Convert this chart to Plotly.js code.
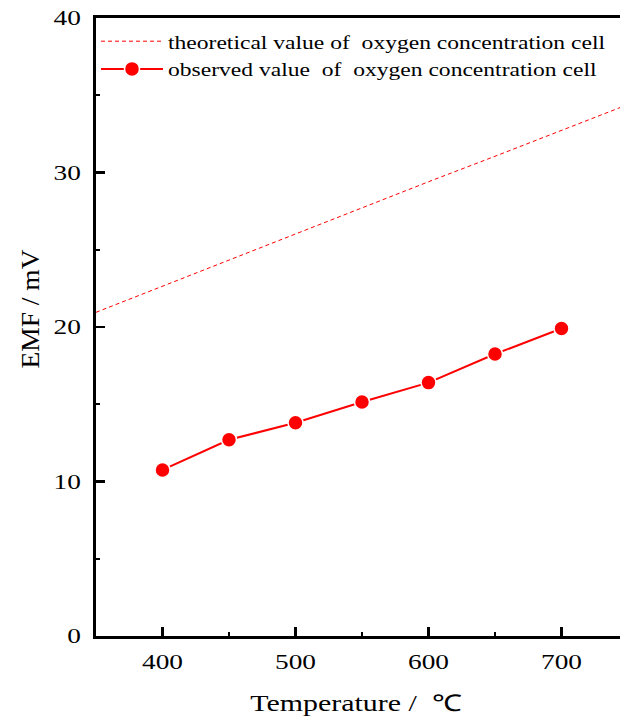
<!DOCTYPE html>
<html>
<head>
<meta charset="utf-8">
<script src="https://cdn.plot.ly/plotly-3.0.1.min.js"></script>
<style>
html, body { margin: 0; padding: 0; overflow: hidden; background: #fff; }
#chart { width: 628px; height: 719px; }
</style>
</head>
<body>
<div id="chart"></div>
<script>
// Theoretical EMF
const theoTemp = [350, 400, 450, 500, 550, 600, 650, 700, 750];
const theoEMF  = [20.95, 22.65, 24.35, 26.0, 27.7, 29.4, 31.05, 32.75, 34.4];

const obsTemp = [400, 450, 500, 550, 600, 650, 700];
const obsEMF  = [10.75, 12.7, 13.8, 15.15, 16.4, 18.25, 19.9];

const xTicks = [400, 500, 600, 700];
const yTicks = [0, 10, 20, 30, 40];

const serif = "'Liberation Serif', 'Times New Roman', serif";

const traces = [
  {
    x: theoTemp, y: theoEMF, type: 'scatter', mode: 'lines',
    name: 'theoretical value of\u00a0 oxygen concentration cell',
    line: { color: '#ff0000', width: 1, dash: '4px,3px' }
  },
  {
    x: obsTemp, y: obsEMF, type: 'scatter', mode: 'lines+markers',
    name: 'observed value\u00a0 of\u00a0 oxygen concentration cell',
    line: { color: '#ff0000', width: 2 },
    marker: { color: '#ff0000', size: 15, line: { color: '#ffffff', width: 1.5 } }
  }
];

const layout = {
  width: 628, height: 719,
  margin: { l: 96, r: 0, t: 18, b: 83 },
  paper_bgcolor: '#ffffff', plot_bgcolor: '#ffffff',
  font: { family: serif, color: '#000', size: 20 },
  showlegend: true,
  legend: {
    x: 0.0, y: 0.993, xanchor: 'left', yanchor: 'top',
    bgcolor: 'rgba(0,0,0,0)', borderwidth: 0,
    font: { family: serif, size: 19, color: '#000' },
    itemwidth: 62, tracegroupgap: 11
  },
  xaxis: {
    range: [350, 750],
    tickvals: xTicks, ticktext: xTicks.map(String),
    ticks: 'inside', ticklen: 9, tickwidth: 2.5, tickcolor: '#000',
    minor: { dtick: 50, ticks: 'inside', ticklen: 4, tickwidth: 2, tickcolor: '#000' },
    showline: true, linecolor: '#000', linewidth: 3, mirror: true,
    showgrid: false, zeroline: false,
    tickfont: { family: serif, size: 21, color: '#000' },
    ticklabelstandoff: 5,
    title: { text: 'Temperature /\u00a0 ℃', font: { family: serif, size: 23, color: '#000' }, standoff: 22 }
  },
  yaxis: {
    range: [0, 40],
    tickvals: yTicks, ticktext: yTicks.map(String),
    ticks: 'inside', ticklen: 9, tickwidth: 2.5, tickcolor: '#000',
    minor: { dtick: 5, ticks: 'inside', ticklen: 4, tickwidth: 2, tickcolor: '#000' },
    showline: true, linecolor: '#000', linewidth: 3, mirror: true,
    showgrid: false, zeroline: false,
    tickfont: { family: serif, size: 21, color: '#000' },
    ticklabelstandoff: 8,
    title: { text: 'EMF / mV', font: { family: serif, size: 25, color: '#000' }, standoff: 14 }
  }
};

// Widen the serif text horizontally to match the stretched lettering of the original
function stretchText() {
  document.querySelectorAll('#chart svg text').forEach(function (t) {
    if (!t.textContent.trim()) return;
    let k = 1.3;
    if (t.closest('.g-ytitle')) k = 1.1;
    else if (t.closest('.legend')) k = 1.24;
    t.removeAttribute('textLength');
    const len = t.getComputedTextLength();
    if (len > 0) {
      t.setAttribute('textLength', (len * k).toFixed(2));
      t.setAttribute('lengthAdjust', 'spacingAndGlyphs');
    }
  });
  // let the widened legend text overflow its box
  document.querySelectorAll('#chart .legend [clip-path]').forEach(function (e) {
    e.removeAttribute('clip-path');
  });
  const yt = document.querySelector('#chart .g-ytitle');
  if (yt) yt.setAttribute('transform', 'translate(0,-18)');
  const xt = document.querySelector('#chart .g-xtitle');
  if (xt) xt.setAttribute('transform', 'translate(-6,0)');
}

Plotly.newPlot('chart', traces, layout, { displayModeBar: false, staticPlot: true }).then(stretchText);
</script>
</body>
</html>
